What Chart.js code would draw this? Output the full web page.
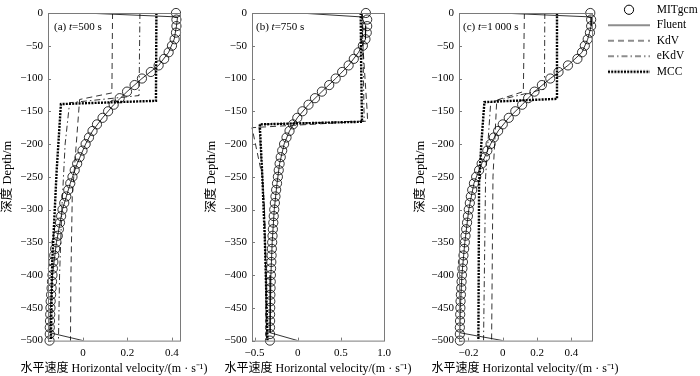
<!DOCTYPE html>
<html>
<head>
<meta charset="utf-8">
<script src="https://cdn.jsdelivr.net/npm/chart.js@4/dist/chart.umd.min.js"></script>
<style>
  body { margin: 0; background: #fff; width: 700px; height: 376px; overflow: hidden; position: relative; }
  canvas { position: absolute; top: 0; }
  #legend { z-index: 2; }
</style>
</head>
<body>
<canvas id="legend" width="97" height="376" style="left:603px"></canvas>
<canvas id="panelA" width="228" height="376" style="left:0px"></canvas>
<canvas id="panelB" width="228" height="376" style="left:204px"></canvas>
<canvas id="panelC" width="228" height="376" style="left:411px"></canvas>
<script>
// depth of the MITgcm samples (m)
const mitDepth = [0, -10, -20, -30, -40, -50, -60, -70, -80, -90, -100, -110, -120, -130, -140, -150, -160, -170, -180, -190,
  -200, -210, -220, -230, -240, -250, -260, -270, -280, -290, -300, -310, -320, -330, -340, -350, -360, -370, -380, -390,
  -400, -410, -420, -430, -440, -450, -460, -470, -480, -490, -500];
const fluentDepth = [0, -6, -20, -40, -60, -80, -100, -120, -140, -160, -180, -200, -230, -260, -300, -350, -400, -450, -488, -500];

// (a) t = 500 s
const mitA = [0.418, 0.42, 0.42, 0.418, 0.412, 0.40, 0.385, 0.365, 0.34, 0.305, 0.265, 0.232, 0.198, 0.165, 0.138, 0.113, 0.088, 0.063, 0.043, 0.027,
  0.012, -0.002, -0.015, -0.026, -0.037, -0.047, -0.057, -0.066, -0.075, -0.084, -0.092, -0.098, -0.103, -0.108, -0.113, -0.119, -0.125, -0.129, -0.133, -0.135,
  -0.137, -0.139, -0.141, -0.143, -0.145, -0.146, -0.147, -0.148, -0.149, -0.149, -0.15];
const fluentA = [0.005, 0.425, 0.42, 0.41, 0.385, 0.34, 0.265, 0.198, 0.138, 0.088, 0.043, 0.012, -0.026, -0.057, -0.092, -0.119, -0.137, -0.146, -0.149, 0.0];
const kdvDepthA = [0, -122, -132, -200, -280, -400, -500];
const kdvA = [0.133, 0.13, -0.015, -0.03, -0.048, -0.054, -0.056];
const ekdvDepthA = [0, -126, -137, -200, -300, -400, -500];
const ekdvA = [0.256, 0.252, -0.06, -0.08, -0.095, -0.105, -0.11];
const mccDepthA = [0, -134, -139, -240, -380, -500];
const mccA = [0.33, 0.328, -0.099, -0.118, -0.138, -0.144];

// (b) t = 750 s
const mitB = [0.79, 0.805, 0.805, 0.80, 0.785, 0.755, 0.705, 0.65, 0.59, 0.515, 0.44, 0.365, 0.28, 0.20, 0.125, 0.055, -0.005, -0.055, -0.095, -0.13,
  -0.158, -0.18, -0.197, -0.21, -0.22, -0.23, -0.24, -0.25, -0.258, -0.265, -0.272, -0.278, -0.283, -0.288, -0.292, -0.296, -0.30, -0.303, -0.306, -0.309,
  -0.311, -0.313, -0.315, -0.317, -0.318, -0.319, -0.32, -0.32, -0.321, -0.321, -0.322];
const fluentB = [0.02, 0.74, 0.79, 0.785, 0.705, 0.59, 0.44, 0.28, 0.125, -0.005, -0.095, -0.158, -0.21, -0.24, -0.272, -0.296, -0.311, -0.319, -0.321, 0.0];
const kdvDepthB = [0, -60, -150, -165, -175, -250, -300, -400, -500];
const kdvB = [0.74, 0.76, 0.805, 0.81, -0.53, -0.41, -0.385, -0.37, -0.36];
const ekdvDepthB = [0, -165, -170, -300, -500];
const ekdvB = [0.75, 0.77, -0.45, -0.385, -0.355];
const mccDepthB = [0, -80, -166, -170, -250, -350, -500];
const mccB = [0.73, 0.735, 0.745, -0.44, -0.41, -0.38, -0.35];

// (c) t = 1000 s
const mitC = [0.51, 0.515, 0.515, 0.508, 0.495, 0.478, 0.462, 0.435, 0.38, 0.325, 0.277, 0.228, 0.185, 0.148, 0.113, 0.073, 0.035, 0.0, -0.027, -0.052,
  -0.071, -0.09, -0.104, -0.123, -0.138, -0.155, -0.168, -0.178, -0.186, -0.192, -0.198, -0.203, -0.208, -0.213, -0.217, -0.221, -0.225, -0.229, -0.232, -0.235,
  -0.238, -0.24, -0.242, -0.244, -0.246, -0.247, -0.248, -0.249, -0.25, -0.25, -0.25];
const fluentC = [-0.015, 0.515, 0.515, 0.495, 0.462, 0.38, 0.277, 0.185, 0.113, 0.035, -0.027, -0.071, -0.123, -0.168, -0.198, -0.221, -0.238, -0.247, -0.25, 0.0];
const kdvDepthC = [0, -120, -133, -250, -500];
const kdvC = [0.126, 0.12, -0.035, -0.057, -0.065];
const ekdvDepthC = [0, -116, -136, -250, -500];
const ekdvC = [0.245, 0.243, -0.07, -0.1, -0.112];
const mccDepthC = [0, -131, -136, -200, -260, -500];
const mccC = [0.316, 0.316, -0.107, -0.125, -0.138, -0.142];

// axes
const depthTicks = [0, -50, -100, -150, -200, -250, -300, -350, -400, -450, -500];
const depthLabels = ['0', '\u221250', '\u2212100', '\u2212150', '\u2212200', '\u2212250', '\u2212300', '\u2212350', '\u2212400', '\u2212450', '\u2212500'];
const xTicksA = [0, 0.2, 0.4];
const xLabelsA = ['0', '0.2', '0.4'];
const xTicksB = [-0.5, 0, 0.5, 1.0];
const xLabelsB = ['\u22120.5', '0', '0.5', '1.0'];
const xTicksC = [-0.2, 0, 0.2, 0.4];
const xLabelsC = ['\u22120.2', '0', '0.2', '0.4'];
const seriesNames = ['MITgcm', 'Fluent', 'KdV', 'eKdV', 'MCC'];

Chart.defaults.font.family = "'Liberation Serif', 'Noto Sans CJK SC', serif";
Chart.defaults.font.size = 11;
Chart.defaults.color = '#000';

// line samples for the legend, drawn into small canvases (the MITgcm circle is added by legendCircle)
function legendIcon(name) {
  const c = document.createElement('canvas');
  c.width = 44; c.height = 14;
  if (name === 'MITgcm') return c;
  const g = c.getContext('2d');
  const styles = { Fluent: [0.9, []], KdV: [0.9, [6, 4]], eKdV: [0.9, [6, 3, 1.5, 3]], MCC: [2.4, [2, 1.2]] };
  g.strokeStyle = '#000';
  g.lineWidth = styles[name][0];
  g.setLineDash(styles[name][1]);
  g.beginPath();
  g.moveTo(1, 7); g.lineTo(43, 7);
  g.stroke();
  return c;
}

const legendCircle = {
  id: 'legendCircle',
  afterDraw(chart) {
    const hb = chart.legend.legendHitBoxes[0];
    if (!hb) return;
    const ctx = chart.ctx;
    ctx.save();
    ctx.strokeStyle = '#000';
    ctx.lineWidth = 1;
    ctx.beginPath();
    ctx.arc(hb.left + 22, hb.top + hb.height / 2, 4.6, 0, Math.PI * 2);
    ctx.stroke();
    ctx.restore();
  }
};

new Chart(document.getElementById('legend'), {
  type: 'scatter',
  data: { datasets: seriesNames.map(n => ({ label: n, data: [] })) },
  options: {
    responsive: false,
    animation: false,
    events: [],
    scales: { x: { display: false }, y: { display: false } },
    plugins: {
      tooltip: { enabled: false },
      legend: {
        position: 'top',
        align: 'start',
        labels: {
          usePointStyle: true,
          pointStyleWidth: 44,
          padding: 4,
          font: { size: 11.5 },
          generateLabels: chart => chart.data.datasets.map((ds, i) => ({
            text: ds.label, pointStyle: legendIcon(ds.label), fillStyle: 'rgba(0,0,0,0)', strokeStyle: 'rgba(0,0,0,0)',
            lineWidth: 0, hidden: false, datasetIndex: i, fontColor: '#000'
          }))
        }
      }
    }
  },
  plugins: [legendCircle]
});

const toPts = (xs, ys) => xs.map((v, i) => ({ x: v, y: ys[i] }));

// box round the plot area, with short inward tick marks
const frame = {
  id: 'frame',
  afterDatasetsDraw(chart) {
    const { ctx, chartArea: a, scales } = chart;
    ctx.save();
    ctx.strokeStyle = '#7a7a7a';
    ctx.lineWidth = 1;
    ctx.strokeRect(a.left + 0.5, a.top + 0.5, a.right - a.left, a.bottom - a.top);
    ctx.beginPath();
    scales.x.ticks.forEach(t => {
      const px = Math.round(scales.x.getPixelForValue(t.value)) + 0.5;
      ctx.moveTo(px, a.bottom); ctx.lineTo(px, a.bottom - 3);
    });
    scales.y.ticks.forEach(t => {
      const py = Math.round(scales.y.getPixelForValue(t.value)) + 0.5;
      ctx.moveTo(a.left, py); ctx.lineTo(a.left + 3, py);
    });
    ctx.stroke();
    ctx.restore();
  }
};

// "(a) t=500 s" inside the top-left corner
const panelLabel = {
  id: 'panelLabel',
  afterDraw(chart, args, opts) {
    const { ctx, chartArea } = chart;
    ctx.save();
    ctx.fillStyle = '#000';
    ctx.textBaseline = 'middle';
    let x = chartArea.left + opts.dx;
    const y = chartArea.top + 14;
    [[opts.before, ''], ['t', 'italic '], [opts.after, '']].forEach(([s, st]) => {
      ctx.font = st + "11px 'Liberation Serif'";
      ctx.fillText(s, x, y);
      x += ctx.measureText(s).width;
    });
    ctx.restore();
  }
};

function makePanel(id, p) {
  return new Chart(document.getElementById(id), {
    type: 'scatter',
    data: {
      datasets: [
        { label: 'MITgcm', data: toPts(p.mit, mitDepth), showLine: false, pointRadius: 4.6, pointBorderWidth: 0.8,
          pointBorderColor: '#000', pointBackgroundColor: 'rgba(255,255,255,0)', clip: false },
        { label: 'Fluent', data: toPts(p.fluent, fluentDepth), showLine: true, pointRadius: 0, borderColor: '#000', borderWidth: 0.8 },
        { label: 'KdV', data: toPts(p.kdv, p.kdvDepth), showLine: true, pointRadius: 0, borderColor: '#000', borderWidth: 0.8, borderDash: [6, 4], clip: false },
        { label: 'eKdV', data: toPts(p.ekdv, p.ekdvDepth), showLine: true, pointRadius: 0, borderColor: '#000', borderWidth: 0.8, borderDash: [6, 3, 1.5, 3] },
        { label: 'MCC', data: toPts(p.mcc, p.mccDepth), showLine: true, pointRadius: 0, borderColor: '#000', borderWidth: 2.4, borderDash: [2, 1.2] }
      ]
    },
    options: {
      responsive: false,
      animation: false,
      events: [],
      layout: { padding: { top: 13, right: 0, bottom: 0, left: 0 } },
      scales: {
        x: {
          type: 'linear', min: p.min, max: p.max,
          afterBuildTicks: s => { s.ticks = p.xTicks.map(v => ({ value: v })); },
          afterFit: s => { s.height = 19; },
          grid: { display: false, drawTicks: false },
          border: { display: false },
          ticks: { padding: 6, autoSkip: false, maxRotation: 0, callback: (v, i) => p.xLabels[i] },
          title: { display: false }
        },
        y: {
          type: 'linear', min: -500, max: 0,
          afterBuildTicks: s => { s.ticks = depthTicks.map(v => ({ value: v })); },
          afterFit: s => { s.width = 48; },
          grid: { display: false, drawTicks: false },
          border: { display: false },
          ticks: { padding: 5, autoSkip: false, callback: (v, i) => depthLabels[i] },
          title: { display: true, text: '深度 Depth/m', font: { size: 12.5 }, padding: { top: p.titlePad, bottom: 0 } }
        },
        // empty right-hand strip so the caption below is centred on the plot
        yRight: {
          type: 'linear', position: 'right', display: true,
          afterFit: s => { s.width = p.rightGap; },
          grid: { display: false, drawTicks: false },
          border: { display: false },
          ticks: { display: false }
        }
      },
      plugins: {
        legend: { display: false },
        tooltip: { enabled: false },
        title: {
          display: true, position: 'bottom',
          text: '水平速度 Horizontal velocity/(m \u00b7 s\u207b\u00b9)',
          font: { size: 12, weight: 'normal' },
          padding: { top: 2, bottom: 0 }
        },
        panelLabel: { before: p.before, after: p.after, dx: p.dx }
      }
    },
    plugins: [frame, panelLabel]
  });
}

makePanel('panelA', { mit: mitA, fluent: fluentA, kdv: kdvA, kdvDepth: kdvDepthA, ekdv: ekdvA, ekdvDepth: ekdvDepthA,
  mcc: mccA, mccDepth: mccDepthA, min: -0.157, max: 0.436, xTicks: xTicksA, xLabels: xLabelsA,
  rightGap: 48, titlePad: 0, before: '(a) ', after: '=500 s', dx: 6 });
makePanel('panelB', { mit: mitB, fluent: fluentB, kdv: kdvB, kdvDepth: kdvDepthB, ekdv: ekdvB, ekdvDepth: ekdvDepthB,
  mcc: mccB, mccDepth: mccDepthB, min: -0.53, max: 1.0, xTicks: xTicksB, xLabels: xLabelsB,
  rightGap: 48, titlePad: 0, before: '(b) ', after: '=750 s', dx: 4 });
makePanel('panelC', { mit: mitC, fluent: fluentC, kdv: kdvC, kdvDepth: kdvDepthC, ekdv: ekdvC, ekdvDepth: ekdvDepthC,
  mcc: mccC, mccDepth: mccDepthC, min: -0.255, max: 0.52, xTicks: xTicksC, xLabels: xLabelsC,
  rightGap: 47, titlePad: 2, before: '(c) ', after: '=1\u2009000 s', dx: 4 });
</script>
</body>
</html>
